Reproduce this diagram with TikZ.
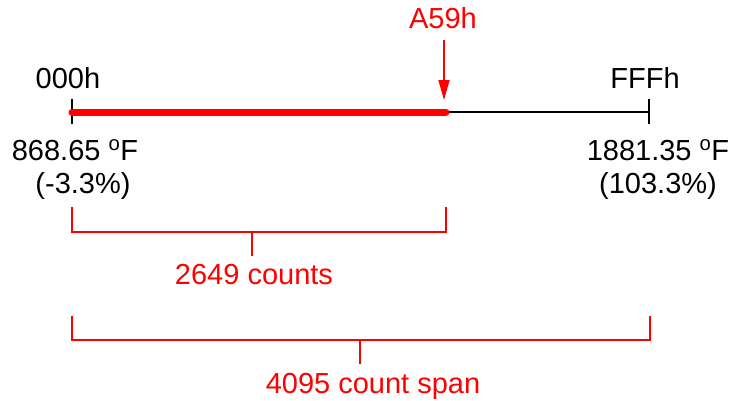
\documentclass[tikz,border=0pt]{standalone}
\usepackage{fontspec}
\setmainfont{Liberation Sans}
\usetikzlibrary{arrows.meta}
\definecolor{pured}{RGB}{255,0,0}
\tikzset{
  lbl/.style={anchor=base,inner sep=0pt,font=\fontsize{29}{34}\selectfont},
  redlbl/.style={lbl,text=pured},
  tick/.style={draw=black,line width=2pt},
  axis/.style={draw=black,line width=2pt},
  bar/.style={draw=pured,line width=7pt,line cap=round},
  bracket/.style={draw=pured,line width=2pt},
  pointer/.style={draw=pured,line width=1.6pt,-{Triangle[length=20pt,width=11pt]}}
}
\begin{document}
\begin{tikzpicture}[x=1pt,y=-1pt]
\useasboundingbox (0,0) rectangle (732,400);
% axis points
\coordinate (L) at (72,112);
\coordinate (M) at (446,112);
\coordinate (R) at (649,112);
\coordinate (Ltop) at (72,99);
\coordinate (Lbot) at (72,124);
\coordinate (Rtop) at (649,99);
\coordinate (Rbot) at (649,124);
\coordinate (Atop) at (444,40);
\coordinate (Atip) at (444,100);
% axis
\draw[axis] (M) -- (R);
\draw[tick] (Ltop) -- (Lbot);
\draw[tick] (Rtop) -- (Rbot);
\draw[bar] (L) -- (M);
\draw[pointer] (Atop) -- (Atip);
% labels
\node[lbl] (lo) at (68,88) {000h};
\node[lbl] (hi) at (645,88) {FFFh};
\node[redlbl] (val) at (443,28) {A59h};
\node[lbl] (lot) at (75,160) {868.65 \textsuperscript{o}F};
\node[lbl] (lop) at (83,193) {(-3.3\%)};
\node[lbl] (hit) at (658,160) {1881.35 \textsuperscript{o}F};
\node[lbl] (hip) at (658,193) {(103.3\%)};
% bracket 1
\coordinate (b1a) at (72,207);
\coordinate (b1b) at (446,207);
\coordinate (b1m) at (252,232);
\coordinate (b1s) at (252,256);
\draw[bracket] (b1a) |- (b1b |- b1m) -- (b1b);
\draw[bracket] (b1m) -- (b1s);
\node[redlbl] (c1) at (254,284) {2649 counts};
% bracket 2
\coordinate (b2a) at (72,316);
\coordinate (b2b) at (650,316);
\coordinate (b2m) at (360,340);
\coordinate (b2s) at (360,364);
\draw[bracket] (b2a) |- (b2b |- b2m) -- (b2b);
\draw[bracket] (b2m) -- (b2s);
\node[redlbl] (c2) at (373,393) {4095 count span};
\end{tikzpicture}
\end{document}
